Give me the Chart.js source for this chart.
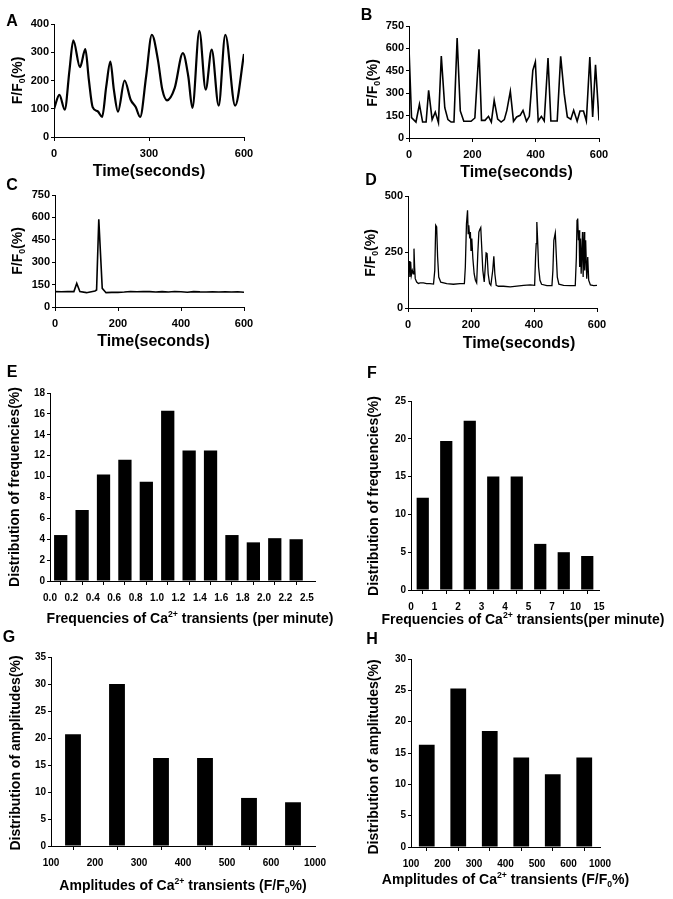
<!DOCTYPE html>
<html><head><meta charset="utf-8">
<script src="https://cdn.jsdelivr.net/npm/chart.js@4.4.1/dist/chart.umd.min.js"></script>
<style>
html,body{margin:0;padding:0;background:#fff;}
body{width:673px;height:899px;position:relative;overflow:hidden;}
canvas{position:absolute;}
</style></head><body>
<canvas id="cA"></canvas><canvas id="cB"></canvas><canvas id="cC"></canvas><canvas id="cD"></canvas>
<canvas id="cE"></canvas><canvas id="cF"></canvas><canvas id="cG"></canvas><canvas id="cH"></canvas>
<script>
// ---------------- DATA ----------------
const A_TIME = [0,17,34,49,61,82,99,110,122,138,152,165,178,189,202,223,242,258,272,291,309,328,342,357,381,407,424,437,459,479,498,520,541,572,600];
const A_VALUES = [99,149,97,238,342,247,311,203,106,91,71,179,267,168,90,200,132,106,71,215,362,274,168,130,173,297,215,103,376,168,309,111,362,111,294];

const B_TIME = [0,8,22,33,43,54,62,73,83,93,102,113,123,133,142,152,162,173,185,196,208,221,229,240,251,260,269,280,291,301,309,320,330,340,351,360,371,380,391,399,408,418,427,439,448,459,468,479,490,500,511,520,531,540,551,560,571,580,589,600];
const B_VALUES = [600,136,107,225,107,107,319,123,174,103,549,203,123,107,107,670,181,112,112,112,134,594,118,118,145,107,252,127,107,123,185,312,112,141,152,185,112,145,453,509,114,145,114,536,114,114,114,547,297,141,125,185,112,181,181,114,542,141,491,118];

const C_TIME = [0,20,40,60,69,79,100,127,132,139,150,162,180,200,220,240,260,280,300,320,340,360,380,400,420,440,460,480,500,520,540,560,580,600];
const C_VALUES = [103,102,104,103,158,103,96,107,114,587,125,96,98,98,100,104,102,104,103,100,103,100,104,102,99,103,101,100,102,100,101,100,102,99];

const D_TIME = [0,2,4,6,8.5,10.6,13.8,17,19,21,23,27.6,33,38,49,59,70,81,85,88,91,94,97.6,104,123,144,165,179,182,185.6,189,191,193,196,198,200,202.5,206,210,214,218,221.6,225,228,231,234,237.5,242,246,248,251,254.5,259,263,269,272.5,275.7,280,287,303,324.5,345.7,367,388,402,405,407,409,411.5,414.6,419,424,441,457,460,463,467.6,471,474,479,494,515,531,534.5,536.6,538.7,541,543,545,547.6,549.7,554,556,559,561,564,567.4,570.6,573.6,579,589.6,600];
const D_VALUES = [205,160,210,138,205,146,168,153,265,183,131,116,109,112,112,109,109,107,168,369,362,228,138,115,109,106,109,109,183,376,436,332,369,310,339,257,310,220,153,124,112,243,339,350,359,272,168,116,198,246,243,153,109,101,168,231,153,101,97,97,94,98,101,103,101,228,287,384,302,183,124,106,100,100,168,302,335,228,138,106,101,100,100,228,391,399,302,347,183,310,153,339,138,339,168,302,131,228,124,103,100,101];

const E_TICK_LABELS = ['0.0','0.2','0.4','0.6','0.8','1.0','1.2','1.4','1.6','1.8','2.0','2.2','2.5'];
const E_VALUES = [4.4,6.8,10.2,11.6,9.5,16.3,12.5,12.5,4.4,3.7,4.1,4.0];

const F_TICK_LABELS = ['0','1','2','3','4','5','7','10','15'];
const F_VALUES = [12.2,19.7,22.4,15.0,15.0,6.1,5.0,4.5];

const G_TICK_LABELS = ['100','200','300','400','500','600','1000'];
const G_VALUES = [20.7,30.0,16.3,16.3,8.9,8.1];

const H_TICK_LABELS = ['100','200','300','400','500','600','1000'];
const H_VALUES = [16.3,25.3,18.5,14.3,11.6,14.3];

// ---------------- TEXT ----------------
const T_FF0 = [{t:'F/F'},{t:'0',sub:1},{t:'(%)'}];
const T_TIME = [{t:'Time(seconds)'}];
const T_E_X = [{t:'Frequencies of Ca'},{t:'2+',sup:1},{t:' transients (per minute)'}];
const T_F_X = [{t:'Frequencies of Ca'},{t:'2+',sup:1},{t:' transients(per minute)'}];
const T_FREQ_Y = [{t:'Distribution of frequencies(%)'}];
const T_AMP_Y = [{t:'Distribution of amplitudes(%)'}];
const T_AMP_X = [{t:'Amplitudes of Ca'},{t:'2+',sup:1},{t:' transients (F/F'},{t:'0',sub:1},{t:'%)'}];

// ---------------- RENDERING ----------------
const FONT = '"Liberation Sans", Arial, Helvetica, sans-serif';

function drawRich(ctx, segs, x, y, size, rot){
  ctx.save();
  ctx.translate(x, y);
  if (rot) ctx.rotate(-Math.PI/2);
  ctx.fillStyle = '#000'; ctx.textAlign = 'left'; ctx.textBaseline = 'alphabetic';
  let w = 0;
  for (const s of segs){ const fs = (s.sub||s.sup) ? size*0.62 : size; ctx.font = `bold ${fs}px ${FONT}`; w += ctx.measureText(s.t).width; }
  let cx = -w/2; const base = size*0.36;
  for (const s of segs){
    const fs = (s.sub||s.sup) ? size*0.62 : size;
    ctx.font = `bold ${fs}px ${FONT}`;
    const dy = s.sub ? size*0.22 : (s.sup ? -size*0.40 : 0);
    ctx.fillText(s.t, cx, base + dy);
    cx += ctx.measureText(s.t).width;
  }
  ctx.restore();
}

function annotPlugin(p){
  return { id: 'annot_' + p.id, afterDraw(chart){
    const ctx = chart.ctx;
    for (const it of p.items) drawRich(ctx, it.segs, it.x - p.rect.x, it.y - p.rect.y, it.size, it.rot);
  }};
}

function axisBase(tickSize, tickLen, pad){
  return {
    border: {display:true, color:'#000', width:1},
    grid: {display:true, drawOnChartArea:false, drawTicks:true, tickLength:tickLen, tickColor:'#000', tickWidth:1, color:'#000'},
    ticks: {color:'#000', font:{family:FONT, size:tickSize, weight:'bold'}, padding:pad, autoSkip:false, maxRotation:0, minRotation:0}
  };
}

function build(p){
  const cv = document.getElementById(p.id);
  cv.width = p.rect.w; cv.height = p.rect.h;
  cv.style.left = p.rect.x + 'px'; cv.style.top = p.rect.y + 'px';
  cv.style.width = p.rect.w + 'px'; cv.style.height = p.rect.h + 'px';
  const L = p.area.l - p.rect.x, T = p.area.t - p.rect.y;
  const R = p.rect.x + p.rect.w - p.area.r, B = p.rect.y + p.rect.h - p.area.b;

  const x = axisBase(p.tickSize, 4, p.xPad);
  x.type = 'linear'; x.position = 'bottom'; x.offset = false;
  x.min = p.xMin; x.max = p.xMax;
  x.afterBuildTicks = (s) => { s.ticks = p.xTickVals.map(v => ({value: v})); };
  x.ticks.callback = (v, i) => p.xLabels[i];
  x.afterFit = (s) => { s.height = B; s.paddingLeft = 0; s.paddingRight = 0; s.paddingTop = 0; s.paddingBottom = 0; };

  const y = axisBase(p.tickSize, 3, 2);
  y.type = 'linear'; y.position = 'left';
  y.min = 0; y.max = p.yMax; y.ticks.stepSize = p.yStep;
  y.afterFit = (s) => { s.width = L; s.paddingLeft = 0; s.paddingRight = 0; s.paddingTop = 0; s.paddingBottom = 0; };

  let dataset;
  if (p.kind === 'line'){
    dataset = {
      data: p.xs.map((t, i) => ({x: t, y: p.ys[i]})),
      borderColor: '#000', borderWidth: p.lw, pointRadius: 0, fill: false,
      tension: p.smooth ? 0.4 : 0, cubicInterpolationMode: p.smooth ? 'monotone' : 'default'
    };
  } else {
    dataset = {
      data: p.ys.map((v, i) => ({x: i + 0.5, y: v})),
      backgroundColor: '#000', borderWidth: 0,
      categoryPercentage: 1, barPercentage: p.barFrac
    };
  }

  new Chart(cv, {
    type: p.kind === 'line' ? 'line' : 'bar',
    data: {datasets: [dataset]},
    options: {
      responsive: false, animation: false, devicePixelRatio: 1, events: [],
      layout: {padding: {left: 0, top: T, right: R, bottom: 0}},
      plugins: {legend: {display: false}, tooltip: {enabled: false}, title: {display: false}},
      scales: {x: x, y: y}
    },
    plugins: [annotPlugin(p)]
  });
}

const seq = (n) => Array.from({length: n}, (_, i) => i);

const panels = [
  {id:'cA', kind:'line', smooth:true, lw:2.2, xs:A_TIME, ys:A_VALUES,
   rect:{x:0,y:0,w:336,h:182}, area:{l:54,t:24,r:244,b:137},
   xMin:0, xMax:600, xTickVals:[0,300,600], xLabels:['0','300','600'], yMax:400, yStep:100, tickSize:11, xPad:6,
   items:[{segs:[{t:'A'}],x:12,y:20.5,size:16},{segs:T_FF0,x:17,y:80.5,size:14,rot:1},{segs:T_TIME,x:149,y:170,size:16}]},
  {id:'cB', kind:'line', smooth:false, lw:1.6, xs:B_TIME, ys:B_VALUES,
   rect:{x:336,y:0,w:337,h:182}, area:{l:409,t:26,r:599,b:138},
   xMin:0, xMax:600, xTickVals:[0,200,400,600], xLabels:['0','200','400','600'], yMax:750, yStep:150, tickSize:11, xPad:6,
   items:[{segs:[{t:'B'}],x:366.5,y:14,size:16},{segs:T_FF0,x:372,y:83,size:14,rot:1},{segs:T_TIME,x:516.5,y:171.7,size:16}]},
  {id:'cC', kind:'line', smooth:false, lw:1.6, xs:C_TIME, ys:C_VALUES,
   rect:{x:0,y:174,w:336,h:182}, area:{l:55,t:195,r:244,b:307},
   xMin:0, xMax:600, xTickVals:[0,200,400,600], xLabels:['0','200','400','600'], yMax:750, yStep:150, tickSize:11, xPad:6,
   items:[{segs:[{t:'C'}],x:12,y:184,size:16},{segs:T_FF0,x:17,y:251,size:14,rot:1},{segs:T_TIME,x:153.5,y:340.7,size:16}]},
  {id:'cD', kind:'line', smooth:false, lw:1.3, xs:D_TIME, ys:D_VALUES,
   rect:{x:336,y:170,w:337,h:186}, area:{l:408,t:196,r:597,b:308},
   xMin:0, xMax:600, xTickVals:[0,200,400,600], xLabels:['0','200','400','600'], yMax:500, yStep:250, tickSize:11, xPad:6,
   items:[{segs:[{t:'D'}],x:371,y:179,size:16},{segs:T_FF0,x:370,y:253,size:14,rot:1},{segs:T_TIME,x:519,y:342,size:16}]},
  {id:'cE', kind:'bar', barFrac:0.62, ys:E_VALUES,
   rect:{x:0,y:358,w:340,h:272}, area:{l:50,t:393,r:315,b:581},
   xMin:0, xMax:12.38, xTickVals:seq(E_TICK_LABELS.length), xLabels:E_TICK_LABELS, yMax:18, yStep:2, tickSize:10, xPad:7,
   items:[{segs:[{t:'E'}],x:12,y:371,size:16},{segs:T_FREQ_Y,x:14,y:487,size:14,rot:1},{segs:T_E_X,x:190,y:618,size:14}]},
  {id:'cF', kind:'bar', barFrac:0.52, ys:F_VALUES,
   rect:{x:336,y:358,w:337,h:272}, area:{l:411,t:401,r:599,b:590},
   xMin:0, xMax:8, xTickVals:seq(F_TICK_LABELS.length), xLabels:F_TICK_LABELS, yMax:25, yStep:5, tickSize:10, xPad:7,
   items:[{segs:[{t:'F'}],x:372,y:372,size:16},{segs:T_FREQ_Y,x:373,y:496,size:14,rot:1},{segs:T_F_X,x:523,y:619,size:14}]},
  {id:'cG', kind:'bar', barFrac:0.36, ys:G_VALUES,
   rect:{x:0,y:626,w:340,h:273}, area:{l:51,t:657,r:315,b:846},
   xMin:0, xMax:6, xTickVals:seq(G_TICK_LABELS.length), xLabels:G_TICK_LABELS, yMax:35, yStep:5, tickSize:10, xPad:7,
   items:[{segs:[{t:'G'}],x:9,y:636,size:16},{segs:T_AMP_Y,x:15,y:753,size:14,rot:1},{segs:T_AMP_X,x:183,y:885,size:14}]},
  {id:'cH', kind:'bar', barFrac:0.5, ys:H_VALUES,
   rect:{x:336,y:626,w:337,h:273}, area:{l:411,t:659,r:600,b:847},
   xMin:0, xMax:6, xTickVals:seq(H_TICK_LABELS.length), xLabels:H_TICK_LABELS, yMax:30, yStep:5, tickSize:10, xPad:7,
   items:[{segs:[{t:'H'}],x:372,y:638,size:16},{segs:T_AMP_Y,x:373,y:757,size:14,rot:1},{segs:T_AMP_X,x:505.5,y:879,size:14}]}
];

panels.forEach(build);
</script>
</body></html>
